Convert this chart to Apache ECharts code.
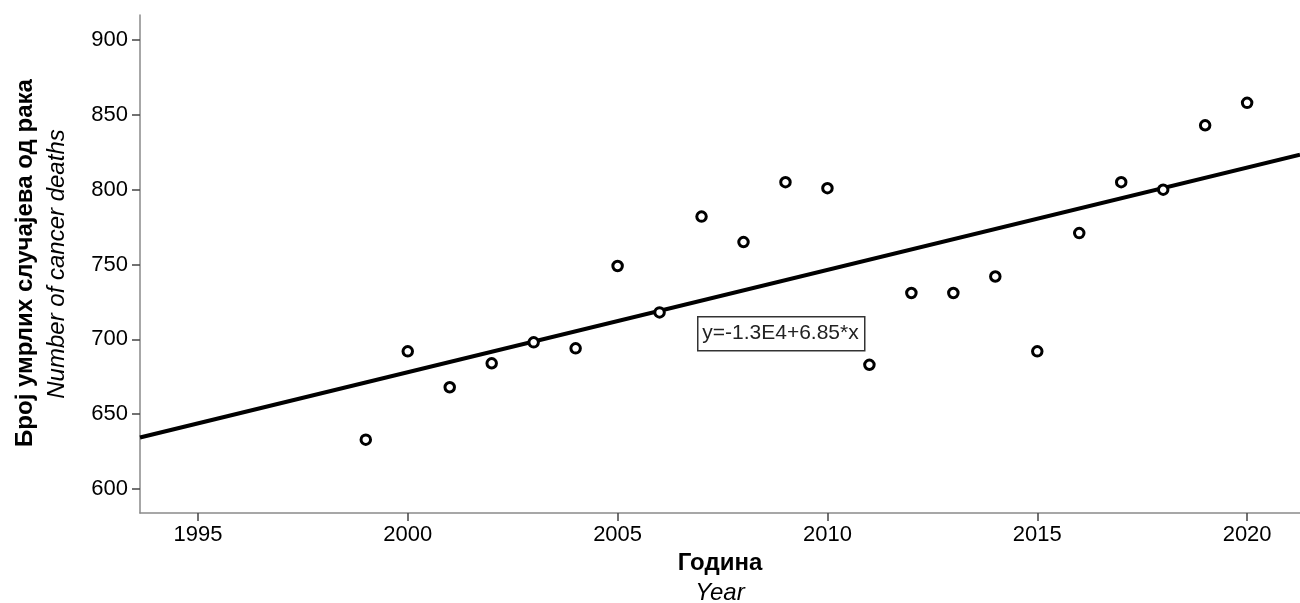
<!DOCTYPE html>
<html>
<head>
<meta charset="utf-8">
<script src="https://cdn.jsdelivr.net/npm/echarts@6/dist/echarts.min.js"></script>
<style>
html,body{margin:0;padding:0;background:#fff;}
#c{width:1300px;height:603px;}
</style>
</head>
<body>
<div id="c"></div>
<script>
const years = [1999,2000,2001,2002,2003,2004,2005,2006,2007,2008,2009,2010,2011,2012,2013,2014,2015,2016,2017,2018,2019,2020];
const deaths = [633,692,668,684,698,694,749,718,782,765,805,801,683,731,731,742,692,771,805,800,843,858];
const xTicks = [1995,2000,2005,2010,2015,2020];
const yTicks = [600,650,700,750,800,850,900];
const equationText = 'y=-1.3E4+6.85*x';

const FONT = '"Liberation Sans", Arial, sans-serif';
const xMin = 1993.62, xMax = 2021.26, yMin = 584, yMax = 916.7;

// least-squares fit line
const n = years.length;
const mx = years.reduce((a,b)=>a+b,0)/n;
const my = deaths.reduce((a,b)=>a+b,0)/n;
let sxy=0, sxx=0;
for (let i=0;i<n;i++){ sxy += (years[i]-mx)*(deaths[i]-my); sxx += (years[i]-mx)**2; }
const slope = sxy/sxx, intercept = my - slope*mx;
const fitLine = [[xMin, intercept + slope*xMin],[xMax, intercept + slope*xMax]];

const chart = echarts.init(document.getElementById('c'));
chart.setOption({
  backgroundColor:'#fff',
  animation:false,
  grid:{left:140, right:0, top:15, bottom:90, containLabel:false},
  xAxis:{
    type:'value', min:xMin, max:xMax,
    axisLine:{show:true, onZero:false, lineStyle:{color:'#8a8a8a', width:1.5}},
    axisTick:{show:true, length:8, customValues:xTicks, lineStyle:{color:'#444', width:1.5}},
    axisLabel:{customValues:xTicks, formatter:v=>String(v), color:'#000', fontSize:22, fontFamily:FONT, margin:11},
    splitLine:{show:false}
  },
  yAxis:{
    type:'value', min:yMin, max:yMax,
    axisLine:{show:true, onZero:false, lineStyle:{color:'#8a8a8a', width:1.5}},
    axisTick:{show:true, length:8, customValues:yTicks, lineStyle:{color:'#444', width:1.5}},
    axisLabel:{customValues:yTicks, formatter:v=>String(v), color:'#000', fontSize:22, fontFamily:FONT, margin:12},
    splitLine:{show:false}
  },
  series:[
    {
      type:'line', data:fitLine, showSymbol:false, symbol:'none',
      lineStyle:{color:'#000', width:4}, z:2, silent:true
    },
    {
      type:'scatter', data:years.map((y,i)=>[y,deaths[i]]),
      symbol:'circle', symbolSize:9.5,
      itemStyle:{color:'#fff', borderColor:'#000', borderWidth:3, opacity:1},
      z:3
    }
  ],
  graphic:[
    {type:'rect', left:697, top:316, shape:{width:167, height:34},
     style:{fill:'#fff', stroke:'#333', lineWidth:1.5}, z:10},
    {type:'text', x:780.5, y:333, z:11,
     style:{text:equationText, fill:'#222', font:'21px '+FONT, align:'center', verticalAlign:'middle'}},
    {type:'text', x:720, y:563,
     style:{text:'Година', fill:'#000', font:'bold 24px '+FONT, align:'center', verticalAlign:'middle'}},
    {type:'text', x:720, y:593,
     style:{text:'Year', fill:'#000', font:'italic 24px '+FONT, align:'center', verticalAlign:'middle'}},
    {type:'text', x:25, y:263, rotation:Math.PI/2,
     style:{text:'Број умрлих случајева од рака', fill:'#000', font:'bold 24px '+FONT, align:'center', verticalAlign:'middle'}},
    {type:'text', x:57, y:264, rotation:Math.PI/2,
     style:{text:'Number of cancer deaths', fill:'#000', font:'italic 24px '+FONT, align:'center', verticalAlign:'middle'}}
  ]
});
</script>
</body>
</html>
